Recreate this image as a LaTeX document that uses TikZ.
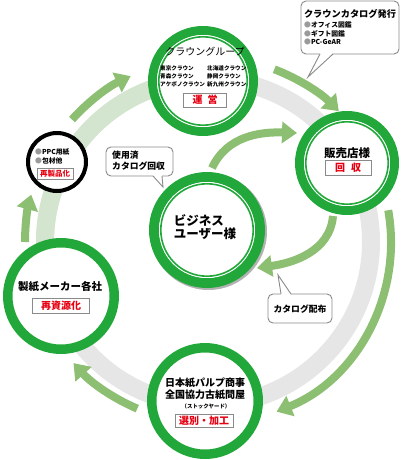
\documentclass[tikz,border=0pt]{standalone}
\usepackage{fontspec}
\setmainfont{Noto Sans CJK JP}
\usetikzlibrary{arrows.meta,calc}
\definecolor{dg}{HTML}{22A83A}
\definecolor{lg}{HTML}{8CBF72}
\definecolor{ringgray}{HTML}{E6E6E6}
\definecolor{ringgreen}{HTML}{D3E5CE}
\definecolor{redt}{HTML}{E60012}
\definecolor{bord}{HTML}{8A8A8A}
\definecolor{bul}{HTML}{9A9A9A}
\newcommand{\fs}[1]{\fontsize{#1}{#1}\selectfont}
\newcommand{\gb}{{\color{bul}●}}
\tikzset{
  arr/.style={draw=lg, line width=8pt, -{Triangle[length=15pt,width=21pt]}},
  ring/.style={circle, draw=dg, line width=9pt, fill=white, inner sep=0pt},
  redbox/.style={draw=bord, line width=0.8pt, fill=white, text=redt, inner sep=0pt, font=\bfseries\fs{10}},
  callbox/.style={draw=bord, line width=0.9pt, fill=white, rounded corners=5pt, inner sep=0pt},
  tailfill/.style={fill=white},
  tailline/.style={draw=bord, line width=0.9pt},
  lbl/.style={inner sep=0pt, text=black},
}
\begin{document}
\begin{tikzpicture}[x=1pt,y=1pt]
\useasboundingbox (0,0) rectangle (400,-460);
\coordinate (C) at (208,-242);
% background ring
\draw[ringgray, line width=18pt] (C) circle (163);
\draw[ringgreen, line width=18pt] ($(C)+(92:163)$) arc[start angle=92, end angle=200, radius=163];
% outer arrows
\coordinate (a1) at ($(C)+(180:183)$);
\coordinate (b1) at ($(C)+(138:183)$);
\coordinate (c1) at ($(C)+(69:185)$);
\coordinate (d1) at ($(C)+(10:183)$);
\coordinate (e1) at ($(C)+(-113:181)$);
\draw[arr] (a1) arc[start angle=180, end angle=165, radius=183];
\draw[arr] (b1) arc[start angle=138, end angle=115, radius=183];
\draw[arr] (c1) arc[start angle=69, end angle=45, radius=185];
\draw[arr] (d1) arc[start angle=10, end angle=-68, radius=183];
\draw[arr] (e1) arc[start angle=-113, end angle=-138, radius=181];
% inner arrows
\coordinate (f1) at (212,-168);
\coordinate (f2) at (297,-133);
\coordinate (g1) at (333,-216);
\coordinate (g2) at (257,-268);
\draw[arr] (f1) to[out=65, in=178] (f2);
\draw[arr] (g1) to[out=-95, in=8] (g2);
% circles
\node[ring, minimum size=101pt] (crown) at (203,-81) {};
\draw[white, line width=1pt] (crown.center) circle (45.5);
\draw[dg, line width=1.6pt] (crown.center) circle (44.2);

\node[ring, minimum size=95pt] (shop) at (347,-163) {};
\draw[white, line width=1pt] (shop.center) circle (42.5);
\draw[dg, line width=1.6pt] (shop.center) circle (41.2);

\fill[black!30] (208.5,-231.5) circle (58.5);
\node[ring, line width=10pt, minimum size=106pt] (user) at (207,-230) {};
\draw[white, line width=1pt] (user.center) circle (47.5);
\draw[dg, line width=1.6pt] (user.center) circle (46.2);

\node[ring, line width=9.5pt, minimum size=106.5pt] (maker) at (61,-296) {};
\node[ring, line width=9.5pt, minimum size=106.5pt] (stock) at (205,-401) {};
\node[circle, draw=black, line width=4pt, fill=white, minimum size=58pt, inner sep=0pt] (ppc) at (57,-162) {};

% crown text
\node[lbl, font=\fs{10}] (crownt) at (205,-52) {クラウングループ};
\node[lbl, anchor=west, align=left, font=\bfseries\fs{5.6}] (cl) at (160,-76) {東京クラウン\\[2.4pt]青森クラウン\\[2.4pt]アケボノクラウン};
\node[lbl, anchor=west, align=left, font=\bfseries\fs{5.6}] (cr) at (207,-76) {北海道クラウン\\[2.4pt]静岡クラウン\\[2.4pt]新九州クラウン};
\node[redbox, minimum width=43pt, minimum height=14pt] (unei) at (205,-100) {運\hspace{0.5em}営};
% shop text
\node[lbl, font=\bfseries\fs{11.5}] (shopt) at (347,-153) {販売店様};
\node[redbox, minimum width=46pt, minimum height=15pt] (kaishu) at (348,-168) {回\hspace{0.6em}収};
% user text
\node[lbl, align=left, font=\bfseries\fs{12.5}] (usert) at (205,-227) {ビジネス\\[1pt]ユーザー様};
% ppc text
\node[lbl, anchor=west, align=left, font=\bfseries\fs{6.8}] (ppct) at (35,-156.5) {\gb PPC用紙\\[1.6pt]\gb 包材他};
\node[redbox, font=\bfseries\fs{7.5}, minimum width=36pt, minimum height=11pt] (saisei) at (55,-174) {再製品化};
% maker text
\node[lbl, font=\bfseries\fs{10.5}] (makert) at (60,-287) {製紙メーカー各社};
\node[redbox, minimum width=57pt, minimum height=15pt] (shigen) at (61,-306) {再資源化};
% stock text
\node[lbl, font=\bfseries\fs{10}] (st1) at (205,-383) {日本紙パルプ商事};
\node[lbl, font=\bfseries\fs{10}] (st2) at (205,-395) {全国協力古紙問屋};
\node[lbl, font=\bfseries\fs{5.4}] (st3) at (206,-406) {（ストックヤード）};
\node[redbox, minimum width=58pt, minimum height=13pt] (senbetsu) at (204,-421) {選別・加工};
% callout 1
\node[callbox, minimum width=98pt, minimum height=53pt] (cb1) at (350,-27.5) {};
\fill[tailfill] (320,-53) -- (308,-77) -- (333,-53) -- cycle;
\draw[tailline] (320,-54) -- (308,-77) -- (333,-54);
\node[lbl, font=\bfseries\fs{9.2}] (cb1t) at (350,-14) {クラウンカタログ発行};
\node[lbl, anchor=west, align=left, font=\bfseries\fs{6.8}] (cb1l) at (304,-33.5) {\gb オフィス図鑑\\[1.6pt]\gb ギフト図鑑\\[1.6pt]\gb PC-GeAR};
% callout 2
\node[callbox, minimum width=67pt, minimum height=29pt] (cb2) at (139.5,-161.5) {};
\fill[tailfill] (153,-175) -- (163,-187) -- (162,-175) -- cycle;
\draw[tailline] (153,-176) -- (163,-187) -- (162,-176);
\node[lbl, anchor=west, align=left, font=\bfseries\fs{8.8}] (cb2t) at (112,-161) {使用済\\[2pt]カタログ回収};
% callout 3
\node[callbox, minimum width=64pt, minimum height=29pt] (cb3) at (300,-308.5) {};
\fill[tailfill] (281,-295) -- (278,-275) -- (291,-295) -- cycle;
\draw[tailline] (281,-294) -- (278,-275) -- (291,-294);
\node[lbl, font=\bfseries\fs{8.8}] (cb3t) at (300,-309) {カタログ配布};
\end{tikzpicture}
\end{document}
